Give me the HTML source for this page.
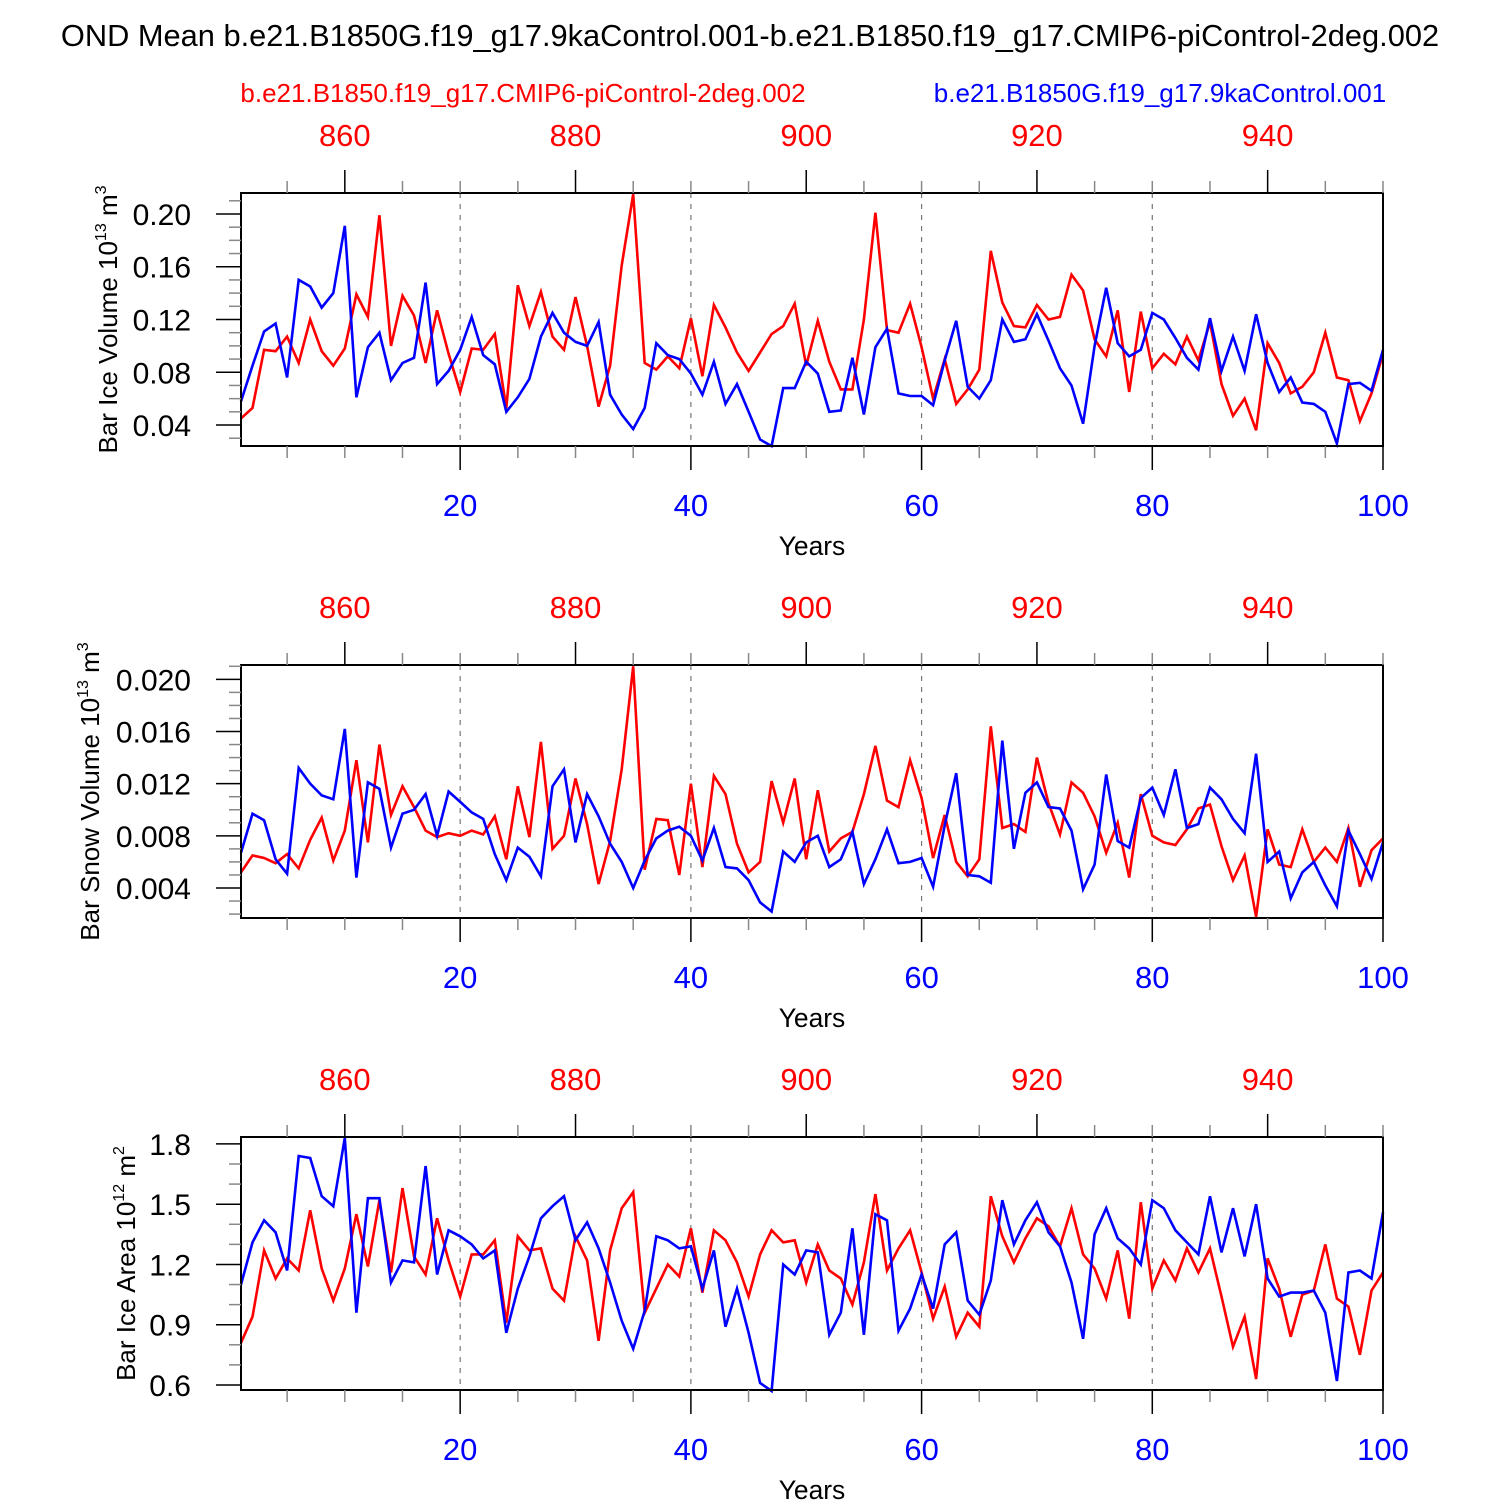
<!DOCTYPE html>
<html><head><meta charset="utf-8"><style>
body{margin:0;background:#fff;}
svg{display:block;font-family:"Liberation Sans",Arial,sans-serif;}
</style></head><body>
<svg id="chart" width="1500" height="1500" viewBox="0 0 1500 1500">
<text x="750" y="46" text-anchor="middle" font-size="30.8">OND Mean b.e21.B1850G.f19_g17.9kaControl.001-b.e21.B1850.f19_g17.CMIP6-piControl-2deg.002</text>
<text x="523" y="102" text-anchor="middle" font-size="26" fill="#f00">b.e21.B1850.f19_g17.CMIP6-piControl-2deg.002</text>
<text x="1160" y="102" text-anchor="middle" font-size="26" fill="#00f">b.e21.B1850G.f19_g17.9kaControl.001</text>
</svg>
<script>
const years = Array.from({length:100},(_,i)=>i+1);
const iceVolBlue=[0.058,0.085,0.111,0.117,0.076,0.150,0.145,0.129,0.140,0.191,0.061,0.099,0.110,0.074,0.087,0.091,0.148,0.071,0.081,0.097,0.122,0.093,0.086,0.050,0.061,0.075,0.107,0.125,0.110,0.103,0.100,0.118,0.063,0.048,0.037,0.053,0.102,0.093,0.090,0.079,0.063,0.088,0.056,0.071,0.050,0.029,0.024,0.068,0.068,0.088,0.079,0.050,0.051,0.091,0.048,0.099,0.113,0.064,0.062,0.062,0.055,0.089,0.119,0.069,0.060,0.074,0.120,0.103,0.105,0.124,0.104,0.083,0.070,0.041,0.100,0.144,0.102,0.092,0.097,0.125,0.120,0.106,0.091,0.082,0.121,0.081,0.107,0.081,0.124,0.087,0.065,0.076,0.057,0.056,0.050,0.026,0.071,0.072,0.066,0.097];
const iceVolRed=[0.045,0.053,0.097,0.096,0.107,0.087,0.120,0.096,0.085,0.098,0.139,0.122,0.199,0.100,0.138,0.123,0.087,0.127,0.094,0.065,0.098,0.097,0.109,0.053,0.146,0.115,0.141,0.107,0.097,0.137,0.100,0.054,0.085,0.161,0.215,0.087,0.082,0.092,0.083,0.121,0.077,0.131,0.114,0.095,0.081,0.095,0.109,0.115,0.132,0.085,0.119,0.088,0.067,0.067,0.120,0.201,0.112,0.110,0.132,0.099,0.060,0.090,0.056,0.067,0.082,0.172,0.133,0.115,0.114,0.131,0.120,0.122,0.154,0.142,0.105,0.092,0.127,0.065,0.126,0.083,0.094,0.086,0.107,0.089,0.118,0.071,0.047,0.060,0.036,0.102,0.087,0.064,0.069,0.080,0.110,0.076,0.074,0.043,0.064,0.094];
const snowBlue=[6.7,9.7,9.2,6.2,5.1,13.2,12.0,11.1,10.8,16.2,4.8,12.1,11.6,7.1,9.7,10.0,11.2,8.0,11.4,10.6,9.8,9.3,6.6,4.6,7.1,6.4,4.9,11.8,13.1,7.5,11.2,9.5,7.4,6.0,4.0,6.1,7.8,8.4,8.7,8.0,6.1,8.6,5.6,5.5,4.6,2.9,2.2,6.8,6.0,7.5,8.0,5.6,6.2,8.3,4.3,6.2,8.5,5.9,6.0,6.3,4.1,8.8,12.8,5.0,4.9,4.4,15.3,7.0,11.3,12.1,10.2,10.1,8.4,3.9,5.8,12.7,7.6,7.1,10.9,11.7,9.6,13.1,8.6,8.9,11.7,10.8,9.3,8.2,14.3,6.0,6.8,3.2,5.2,6.0,4.2,2.6,8.4,6.6,4.7,7.5];
const snowRed=[5.2,6.5,6.3,5.9,6.6,5.5,7.7,9.4,6.1,8.4,13.8,7.5,15.0,9.6,11.8,10.2,8.4,7.9,8.2,8.0,8.4,8.1,9.5,6.2,11.8,7.9,15.2,7.0,8.0,12.4,8.9,4.3,7.6,13.1,21.0,5.4,9.3,9.2,5.0,12.0,5.6,12.6,11.2,7.4,5.2,6.0,12.2,9.0,12.4,6.2,11.5,6.8,7.8,8.3,11.2,14.9,10.7,10.2,13.8,10.9,6.3,9.6,6.0,4.9,6.2,16.4,8.6,8.9,8.3,14.0,10.5,8.1,12.1,11.3,9.5,6.7,9.0,4.8,11.2,8.0,7.5,7.3,8.5,10.1,10.4,7.2,4.6,6.5,1.8,8.5,5.8,5.6,8.5,6.0,7.1,6.0,8.6,4.1,6.9,7.8];
const areaBlue=[1.10,1.31,1.42,1.36,1.17,1.74,1.73,1.54,1.49,1.83,0.96,1.53,1.53,1.11,1.22,1.21,1.69,1.15,1.37,1.34,1.30,1.23,1.27,0.86,1.08,1.24,1.43,1.49,1.54,1.32,1.41,1.28,1.11,0.92,0.78,0.97,1.34,1.32,1.28,1.29,1.08,1.27,0.89,1.08,0.86,0.61,0.57,1.20,1.15,1.27,1.26,0.85,0.96,1.38,0.85,1.45,1.42,0.87,0.98,1.15,0.98,1.30,1.36,1.02,0.95,1.12,1.52,1.30,1.42,1.51,1.36,1.29,1.11,0.83,1.35,1.48,1.33,1.28,1.20,1.52,1.48,1.37,1.31,1.25,1.54,1.26,1.48,1.24,1.50,1.13,1.04,1.06,1.06,1.07,0.96,0.62,1.16,1.17,1.13,1.46];
const areaRed=[0.81,0.94,1.27,1.13,1.23,1.17,1.47,1.18,1.02,1.18,1.45,1.19,1.52,1.16,1.58,1.24,1.15,1.43,1.22,1.04,1.25,1.25,1.32,0.91,1.34,1.27,1.28,1.08,1.02,1.34,1.22,0.82,1.27,1.48,1.56,0.96,1.08,1.20,1.14,1.38,1.06,1.37,1.32,1.21,1.04,1.25,1.37,1.31,1.32,1.11,1.30,1.17,1.13,1.00,1.21,1.55,1.17,1.28,1.37,1.16,0.93,1.09,0.84,0.96,0.89,1.54,1.34,1.21,1.33,1.43,1.39,1.29,1.48,1.25,1.18,1.03,1.27,0.93,1.51,1.08,1.22,1.12,1.28,1.16,1.28,1.04,0.79,0.94,0.63,1.23,1.08,0.84,1.05,1.07,1.30,1.03,0.99,0.75,1.07,1.16];
const bottomTicks=[20,40,60,80,100];
const topTicks=[860,880,900,920,940];
const iceVolTicks=[0.04,0.08,0.12,0.16,0.20];
const snowTicks=[0.004,0.008,0.012,0.016,0.020];
const areaTicks=[0.6,0.9,1.2,1.5,1.8];

const NS="http://www.w3.org/2000/svg";
const svg=document.getElementById('chart');
function mk(tag,attrs,parent){const e=document.createElementNS(NS,tag);for(const k in attrs)e.setAttribute(k,attrs[k]);(parent||svg).appendChild(e);return e;}
const X0=241,X1=1383;
function xs(yr){return X0+(yr-1)*(X1-X0)/99;}

const panels=[
 {name:'ice-volume',top:193,bot:446,ymin:0.0241,ymax:0.2159,ticks:iceVolTicks,minor:0.01,dec:2,scale:1,blue:iceVolBlue,red:iceVolRed,title:['Bar Ice Volume 10','13',' m','3'],tx:117},
 {name:'snow-volume',top:665,bot:918,ymin:0.0017,ymax:0.0211,ticks:snowTicks,minor:0.001,dec:3,scale:0.001,blue:snowBlue,red:snowRed,title:['Bar Snow Volume 10','13',' m','3'],tx:99},
 {name:'ice-area',top:1137,bot:1390,ymin:0.575,ymax:1.8345,ticks:areaTicks,minor:0.1,dec:1,scale:1,blue:areaBlue,red:areaRed,title:['Bar Ice Area 10','12',' m','2'],tx:135}
];
panels.forEach(p=>{
 const g=mk('g',{});
 
 
 const ys=v=>p.bot-(v-p.ymin)/(p.ymax-p.ymin)*(p.bot-p.top);
 [20,40,60,80].forEach(t=>{const l=mk('line',{x1:xs(t),x2:xs(t),y1:p.top,y2:p.bot,stroke:'#777','stroke-width':1.2,'stroke-dasharray':'5,6'},g);
  
  });
 [['red',p.red,'#f00'],['blue',p.blue,'#00f']].forEach(([n,arr,c])=>{
  const pts=arr.map((v,i)=>xs(years[i]).toFixed(1)+','+ys(v*p.scale).toFixed(1)).join(' ');
  const pl=mk('polyline',{points:pts,fill:'none',stroke:c,'stroke-width':2.6,'stroke-linejoin':'miter'},g);
  
  
 });
 const fr=mk('rect',{x:X0,y:p.top,width:X1-X0,height:p.bot-p.top,fill:'none',stroke:'#000','stroke-width':2},g);
 
 
 for(let yr=5;yr<=100;yr+=5){
  const x=xs(yr), major=yr%20===0;
  mk('line',{x1:x,x2:x,y1:p.bot,y2:p.bot+(major?24:12),stroke:major?'#000':'#888','stroke-width':1.5},g);
 }
 for(let yr=5;yr<=100;yr+=5){
  const x=xs(yr), major=(yr+850)%20===0;
  mk('line',{x1:x,x2:x,y1:p.top,y2:p.top-(major?23:12),stroke:major?'#000':'#888','stroke-width':1.5},g);
 }
 bottomTicks.forEach(t=>{const e=mk('text',{x:xs(t),y:p.bot+70,'text-anchor':'middle','font-size':31,fill:'#00f'},g);e.textContent=t;
  
  });
 topTicks.forEach(t=>{const e=mk('text',{x:xs(t-850),y:p.top-47,'text-anchor':'middle','font-size':31,fill:'#f00'},g);e.textContent=t;
  
  });
 const xt=mk('text',{x:812,y:p.bot+109,'text-anchor':'middle','font-size':26.4},g);xt.textContent='Years';
 
 
 const start=Math.ceil(p.ymin/p.minor-1e-6);
 for(let k=start;k*p.minor<=p.ymax+1e-9;k++){
  const v=k*p.minor, y=ys(v);
  const major=p.ticks.some(t=>Math.abs(t-v)<p.minor/10);
  mk('line',{x1:X0-(major?25:12),x2:X0,y1:y,y2:y,stroke:major?'#000':'#888','stroke-width':1.5},g);
 }
 p.ticks.forEach(t=>{const e=mk('text',{x:191,y:ys(t)+11,'text-anchor':'end','font-size':30},g);e.textContent=t.toFixed(p.dec);
  
  });
 const cy=(p.top+p.bot)/2;
 const yt=mk('text',{x:0,y:0,'text-anchor':'middle','font-size':26,transform:`translate(${p.tx},${cy}) rotate(-90)`},g);
 
 
 const a=mk('tspan',{},yt);a.textContent=p.title[0];
 const b=mk('tspan',{dy:-11,'font-size':16},yt);b.textContent=p.title[1];
 const c=mk('tspan',{dy:11},yt);c.textContent=p.title[2];
 const d=mk('tspan',{dy:-11,'font-size':16},yt);d.textContent=p.title[3];
});
</script>
</body></html>
